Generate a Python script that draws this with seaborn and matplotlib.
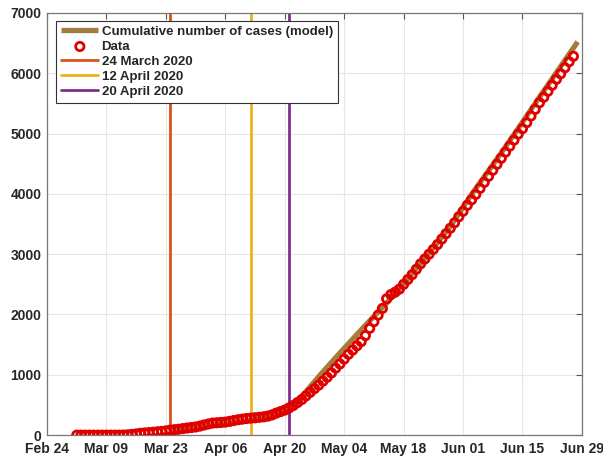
import pandas as pd
import seaborn as sns
import matplotlib.pyplot as plt
import matplotlib.dates as mdates

# données (cas cumulés par jour, du 2 mars au 28 juin 2020)
data_start = '2020-03-02'
data_values = [0, 0, 0, 0, 0, 0, 0, 0, 0, 0, 0,
               2, 5, 12, 20, 30, 36, 42, 48, 55, 62, 70, 83, 90, 98, 108, 118,
               126, 135, 150, 168, 185, 200, 205, 210, 216, 228, 242, 255, 265,
               275, 282, 288, 295, 303, 315, 335, 365, 390, 415,
               450, 490, 540, 590, 650, 710, 770, 830, 895, 960, 1030, 1110,
               1180, 1260, 1340, 1410, 1480, 1550, 1650, 1770, 1880, 1990, 2100,
               2260, 2330, 2370, 2420, 2500, 2580, 2660, 2750, 2840, 2920, 3000,
               3080, 3160, 3250, 3340, 3430, 3520, 3620, 3710, 3810, 3900, 3990,
               4090, 4190, 4290, 4390, 4490, 4590, 4690, 4790, 4890, 4990, 5080,
               5180, 5290, 5400, 5510, 5600, 5700, 5800, 5900, 5990, 6090, 6190,
               6280]

model_dates = ['2020-03-24', '2020-03-31', '2020-04-07', '2020-04-14', '2020-04-20',
               '2020-04-21', '2020-04-24', '2020-04-29', '2020-05-04', '2020-05-09',
               '2020-05-14', '2020-05-19', '2020-05-24', '2020-05-29', '2020-06-03',
               '2020-06-08', '2020-06-13', '2020-06-18', '2020-06-23', '2020-06-28']
model_values = [83, 140, 200, 270, 390, 410, 640, 1050, 1440, 1820,
                2190, 2590, 3020, 3460, 3990, 4480, 4980, 5500, 6010, 6520]

event_dates = ['2020-03-24', '2020-04-12', '2020-04-21']
event_labels = ['24 March 2020', '12 April 2020', '20 April 2020']
event_colors = ['#D95319', '#EDB120', '#7E2F8E']

df = pd.DataFrame({'date': pd.date_range(data_start, periods=len(data_values), freq='D'),
                   'cases': data_values})
model = pd.DataFrame({'date': pd.to_datetime(model_dates), 'cases': model_values})

sns.set_style('whitegrid')
plt.rcParams['font.family'] = ['Liberation Sans', 'DejaVu Sans']
plt.rcParams['font.weight'] = 'bold'

fig = plt.figure(figsize=(6.03, 4.59), dpi=100)
ax = fig.add_axes([0.078, 0.052, 0.887, 0.920])

sns.lineplot(data=model, x='date', y='cases', color='#A47D3C', linewidth=3.8,
             label='Cumulative number of cases (model)', ax=ax, zorder=2,
             solid_capstyle='butt')
sns.scatterplot(data=df, x='date', y='cases', marker='o', s=36, facecolor='none',
                edgecolor='#E00000', linewidth=2, label='Data', ax=ax, zorder=3)
for d, lab, c in zip(event_dates, event_labels, event_colors):
    ax.axvline(pd.Timestamp(d), color=c, linewidth=2, label=lab, zorder=1)

ax.set_xlim(pd.Timestamp('2020-02-24'), pd.Timestamp('2020-06-29'))
ax.set_ylim(0, 7000)
ax.set_xticks(pd.date_range('2020-02-24', '2020-06-29', freq='14D'))
ax.xaxis.set_major_formatter(mdates.DateFormatter('%b %d'))
ax.set_yticks(range(0, 7001, 1000))
ax.set_xlabel('')
ax.set_ylabel('')

ax.grid(True, color='#e6e6e6', linewidth=0.8)
ax.tick_params(direction='in', length=4, top=True, right=True, color='#555555',
               labelsize=10, colors='#262626', pad=4)
ax.tick_params(axis='x', pad=5)
for lab in ax.get_xticklabels() + ax.get_yticklabels():
    lab.set_fontweight('bold')
for s in ax.spines.values():
    s.set_color('#777777')
    s.set_linewidth(0.9)

leg = ax.legend(loc='upper left', bbox_to_anchor=(0.012, 0.988), fontsize=9.5,
                frameon=True, fancybox=False, handlelength=2.8, borderpad=0.4,
                labelspacing=0.2, handletextpad=0.25, borderaxespad=0.2)
leg.get_frame().set_edgecolor('#333333')
leg.get_frame().set_linewidth(0.8)
leg.get_frame().set_alpha(1)
for t in leg.get_texts():
    t.set_fontweight('bold')

plt.savefig('out.png', dpi=100)
